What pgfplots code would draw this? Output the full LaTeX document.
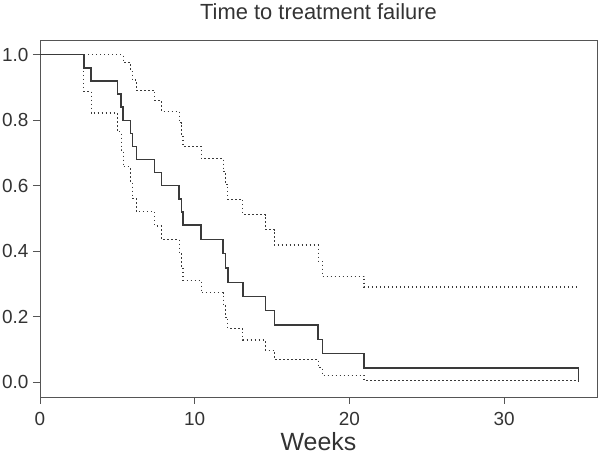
\documentclass[border=0pt]{standalone}
\usepackage{fontspec}
\setmainfont{Liberation Sans}
\usepackage{pgfplots}
\pgfplotsset{compat=1.18}
\definecolor{ink}{HTML}{333333}
\definecolor{frame}{HTML}{555555}
\definecolor{curve}{HTML}{3A3A3A}
\begin{document}
\begin{tikzpicture}
\useasboundingbox (-40bp,-61bp) rectangle (560bp,397bp);
\begin{axis}[
  at={(0,0)}, anchor=south west,
  scale only axis, width=557bp, height=357bp,
  xmin=0, xmax=36, ymin=-0.045, ymax=1.045,
  axis line style={frame, line width=0.9bp},
  xtick={0,10,20,30}, xticklabels={0,10,20,30},
  ytick={0,0.2,0.4,0.6,0.8,1.0}, yticklabels={0.0,0.2,0.4,0.6,0.8,1.0},
  tick style={frame, line width=0.9bp},
  major tick length=7bp, tick align=outside,
  xtick pos=bottom, ytick pos=left,
  ticklabel style={font=\fontsize{19}{22}\selectfont, text=ink},
  xticklabel style={yshift=-5bp},
  yticklabel style={xshift=-1bp},
  title={Time to treatment failure},
  title style={font=\fontsize{22}{26}\selectfont, text=ink, at={(axis description cs:0.5,1)}, anchor=base, yshift=15bp},
  xlabel={Weeks},
  xlabel style={font=\fontsize{25}{30}\selectfont, text=ink, at={(axis description cs:0.5,0)}, anchor=base, yshift=-53bp},
  clip=false,
]
% upper confidence limit
\addplot[const plot, curve, line width=1.1bp, dash pattern=on 1.4bp off 2.6bp] coordinates {
(0,1) (5.37,0.976) (5.85,0.95) (5.96,0.923) (6.24,0.891) (7.41,0.861) (7.84,0.828)
(8.99,0.793) (9.14,0.757) (9.24,0.72) (10.41,0.683) (11.84,0.644) (11.99,0.604)
(12.14,0.558) (13.11,0.512) (14.57,0.466) (15.14,0.419) (17.98,0.37) (18.24,0.324)
(20.94,0.291) (34.8,0.291)
};
% lower confidence limit
\addplot[const plot, curve, line width=1.1bp, dash pattern=on 1.4bp off 2.6bp] coordinates {
(0,1) (2.84,0.888) (3.30,0.822) (5.0,0.765) (5.24,0.709) (5.37,0.658) (5.85,0.61)
(5.96,0.561) (6.24,0.52) (7.41,0.477) (7.84,0.436) (8.99,0.394) (9.14,0.352)
(9.24,0.312) (10.41,0.273) (11.84,0.236) (11.99,0.198) (12.14,0.164) (13.11,0.129)
(14.57,0.098) (15.14,0.07) (17.98,0.045) (18.24,0.022) (20.94,0.005) (34.8,0)
};
% Kaplan-Meier estimate
\addplot[const plot, curve, line width=1.4bp] coordinates {
(0,1) (2.84,0.96) (3.30,0.92) (5.0,0.88) (5.24,0.84) (5.37,0.80) (5.85,0.76)
(5.96,0.72) (6.24,0.68) (7.41,0.64) (7.84,0.60) (8.99,0.56) (9.14,0.52)
(9.24,0.48) (10.41,0.4364) (11.84,0.3927) (11.99,0.3491) (12.14,0.3055)
(13.11,0.2618) (14.57,0.2182) (15.14,0.1745) (17.98,0.1309) (18.24,0.0873)
(20.94,0.0436) (34.8,0)
};
\end{axis}
\end{tikzpicture}
\end{document}
